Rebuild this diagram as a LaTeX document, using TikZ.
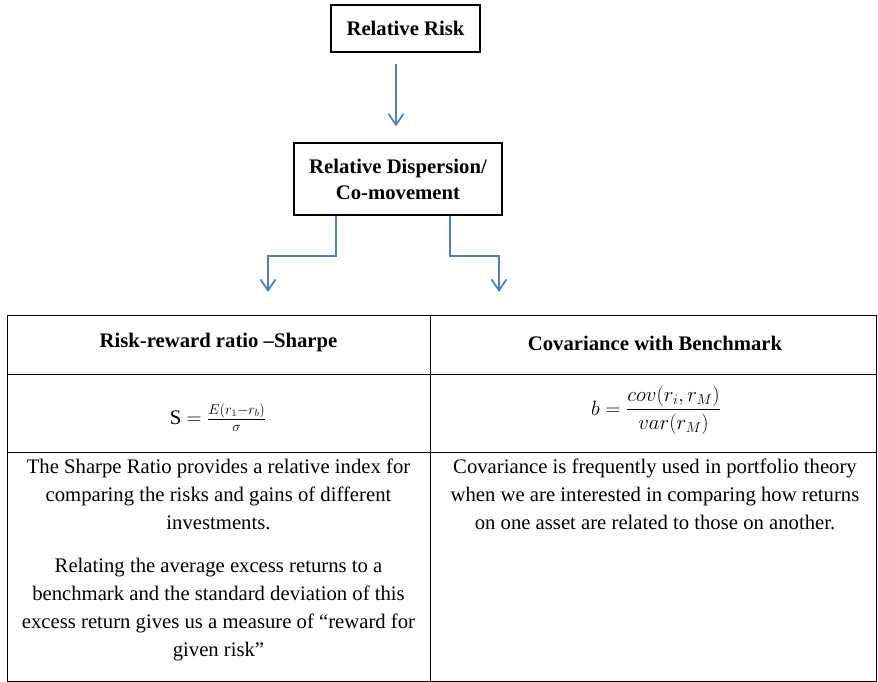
\documentclass[tikz,border=0pt]{standalone}
\usepackage{amsmath}
\usepackage{fontspec}
\setmainfont{Liberation Serif}
\usetikzlibrary{arrows.meta, positioning, calc}
\definecolor{arrblue}{RGB}{79,129,189}

\begin{document}
\begin{tikzpicture}[x=1pt, y=-1pt,
  every node/.style={font=\fontsize{20.7}{28}\selectfont},
  box/.style={rectangle, draw=black, line width=1.2pt, fill=white,
              align=center, inner sep=0pt,
              font=\fontsize{20.7}{26}\selectfont\bfseries},
  head/.style={font=\fontsize{20.7}{26}\selectfont\bfseries},
  cell/.style={align=center, inner sep=0pt},
  arr/.style={-{Straight Barb[length=11pt, width=15pt]}, line width=1.8pt,
              color=arrblue},
  grid/.style={line width=1pt, draw=black},
]
\useasboundingbox (0,0) rectangle (878,682);

\node[box, minimum width=149pt, minimum height=47pt] (rr) at (405.5,28.5) {Relative Risk};
\node[box, minimum width=208pt, minimum height=72pt] (rd) at (398,179)
  {Relative Dispersion/\\Co-movement};

% free ends of the split arrows
\coordinate (lt) at (268,292);
\coordinate (rt) at (499,292);

\draw[arr, shorten <=11pt, shorten >=16pt] ([xshift=-2pt]rr.south -| rd.north) -- ([xshift=-2pt]rd.north);
\draw[arr] ([xshift=-62pt]rd.south) -- ++(0,40) -| (lt);
\draw[arr] ([xshift=52pt]rd.south) -- ++(0,40) -| (rt);

% table
\draw[grid] (7,315) rectangle (876,681);
\draw[grid] (7,374) -- (876,374);
\draw[grid] (7,452) -- (876,452);
\draw[grid] (430,315) -- (430,681);

\node[head] (hl) at (218.5,343) {Risk-reward ratio --Sharpe};
\node[head] (hr) at (655,343) {Covariance with Benchmark};

\node (fl) at (218,418) {S $=\frac{E(r_1-r_b)}{\sigma}$};
\node[font=\fontsize{20.5}{24}\selectfont] (fr) at (656,410)
  {$b=\dfrac{cov(r_i,r_M)}{var(r_M)}$};

\node[cell] (tl1) at (218.5,494) {The Sharpe Ratio provides a relative index for\\
  comparing the risks and gains of different\\investments.};
\node[cell] (tl2) at (218.5,610) {Relating the average excess returns to a\\
  benchmark and the standard deviation of this\\
  excess return gives us a measure of ``reward for\\given risk''};
\node[cell] (tr1) at (655,494) {Covariance is frequently used in portfolio theory\\
  when we are interested in comparing how returns\\
  on one asset are related to those on another.};

\end{tikzpicture}
\end{document}
